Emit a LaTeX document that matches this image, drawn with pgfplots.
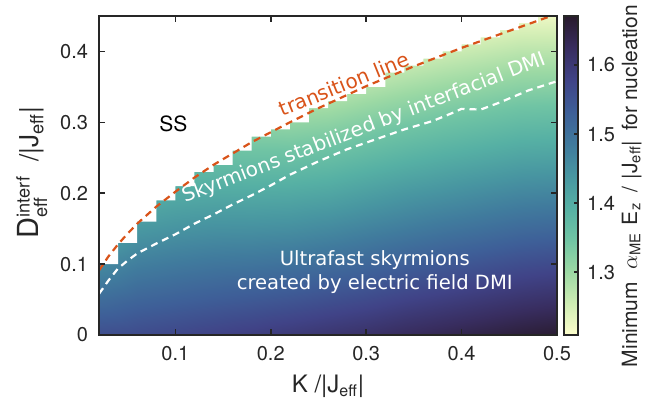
\documentclass[border=0pt]{standalone}
\usepackage{fontspec}
\setmainfont{TeX Gyre Heros}
\newfontfamily\dejavu{DejaVu Sans}
\usepackage{amsmath}
\usepackage{pgfplots}
\pgfplotsset{compat=1.18}
\definecolor{axgray}{RGB}{38,38,38}
\definecolor{tlorange}{RGB}{217,83,25}
\pgfplotsset{colormap={deep}{rgb255=(253,254,204) rgb255=(206,236,179) rgb255=(156,217,164) rgb255=(112,196,164) rgb255=(86,176,164) rgb255=(72,150,161) rgb255=(64,122,157) rgb255=(62,95,152) rgb255=(64,67,135) rgb255=(56,45,95) rgb255=(40,26,44)}}
\pgfplotstableread{
K D v
0.02 0.00 1.560
0.06 0.00 1.565
0.10 0.00 1.572
0.14 0.00 1.580
0.18 0.00 1.588
0.22 0.00 1.597
0.26 0.00 1.606
0.30 0.00 1.615
0.34 0.00 1.627
0.38 0.00 1.637
0.42 0.00 1.647
0.46 0.00 1.657
0.50 0.00 1.665
0.02 0.05 1.510
0.06 0.05 1.522
0.10 0.05 1.529
0.14 0.05 1.536
0.18 0.05 1.542
0.22 0.05 1.549
0.26 0.05 1.558
0.30 0.05 1.567
0.34 0.05 1.579
0.38 0.05 1.589
0.42 0.05 1.599
0.46 0.05 1.609
0.50 0.05 1.616
0.02 0.10 1.460
0.06 0.10 1.479
0.10 0.10 1.487
0.14 0.10 1.493
0.18 0.10 1.496
0.22 0.10 1.501
0.26 0.10 1.509
0.30 0.10 1.519
0.34 0.10 1.531
0.38 0.10 1.542
0.42 0.10 1.551
0.46 0.10 1.561
0.50 0.10 1.567
0.02 0.15 1.410
0.06 0.15 1.436
0.10 0.15 1.444
0.14 0.15 1.449
0.18 0.15 1.450
0.22 0.15 1.453
0.26 0.15 1.461
0.30 0.15 1.472
0.34 0.15 1.483
0.38 0.15 1.494
0.42 0.15 1.503
0.46 0.15 1.513
0.50 0.15 1.518
0.02 0.20 1.360
0.06 0.20 1.393
0.10 0.20 1.402
0.14 0.20 1.405
0.18 0.20 1.404
0.22 0.20 1.406
0.26 0.20 1.412
0.30 0.20 1.424
0.34 0.20 1.436
0.38 0.20 1.446
0.42 0.20 1.456
0.46 0.20 1.465
0.50 0.20 1.469
0.02 0.25 1.310
0.06 0.25 1.350
0.10 0.25 1.359
0.14 0.25 1.361
0.18 0.25 1.358
0.22 0.25 1.358
0.26 0.25 1.364
0.30 0.25 1.376
0.34 0.25 1.388
0.38 0.25 1.399
0.42 0.25 1.408
0.46 0.25 1.417
0.50 0.25 1.420
0.02 0.30 1.260
0.06 0.30 1.307
0.10 0.30 1.317
0.14 0.30 1.318
0.18 0.30 1.312
0.22 0.30 1.310
0.26 0.30 1.315
0.30 0.30 1.328
0.34 0.30 1.340
0.38 0.30 1.351
0.42 0.30 1.360
0.46 0.30 1.369
0.50 0.30 1.372
0.02 0.35 1.210
0.06 0.35 1.264
0.10 0.35 1.274
0.14 0.35 1.274
0.18 0.35 1.266
0.22 0.35 1.262
0.26 0.35 1.267
0.30 0.35 1.280
0.34 0.35 1.292
0.38 0.35 1.303
0.42 0.35 1.312
0.46 0.35 1.321
0.50 0.35 1.323
0.02 0.40 1.210
0.06 0.40 1.221
0.10 0.40 1.232
0.14 0.40 1.230
0.18 0.40 1.220
0.22 0.40 1.214
0.26 0.40 1.218
0.30 0.40 1.232
0.34 0.40 1.244
0.38 0.40 1.255
0.42 0.40 1.264
0.46 0.40 1.273
0.50 0.40 1.274
0.02 0.45 1.210
0.06 0.45 1.210
0.10 0.45 1.210
0.14 0.45 1.210
0.18 0.45 1.210
0.22 0.45 1.210
0.26 0.45 1.210
0.30 0.45 1.210
0.34 0.45 1.210
0.38 0.45 1.210
0.42 0.45 1.216
0.46 0.45 1.225
0.50 0.45 1.225
}\fieldtable
\begin{document}
\begin{tikzpicture}
\begin{axis}[
 scale only axis, width=229pt, height=159.5pt,
 xmin=0.02, xmax=0.5, ymin=0, ymax=0.45,
 xtick={0.1,0.2,0.3,0.4,0.5}, ytick={0,0.1,0.2,0.3,0.4},
 tick align=inside, major tick length=3pt,
 axis line style={axgray, line width=0.8pt},
 every tick/.append style={axgray, line width=0.8pt},
 tick label style={font=\fontsize{10}{12}\selectfont, text=axgray},
 yticklabel style={xshift=-2pt},
 xticklabel style={yshift=-2pt},
 /pgf/number format/assume math mode=true,
 axis on top,
 colormap name=deep,
 point meta min=1.209, point meta max=1.671,
 colorbar,
 colorbar style={
   at={(parent axis.north east)}, anchor=north west, xshift=-5pt,
   width=7pt,
   ytick={1.3,1.4,1.5,1.6},
   ytick pos=right,
   tick align=inside, major tick length=2pt,
   axis line style={axgray, line width=0.8pt},
   every tick/.append style={axgray, line width=0.8pt},
   yticklabel style={font=\fontsize{10}{12}\selectfont, text=axgray, xshift=1pt},
   /pgf/number format/assume math mode=true,
   ylabel={Minimum\hspace{6pt}$\alpha_{\text{ME}}$\hspace{1pt} E$_{\text{z}}$\hspace{2pt} / \hspace{1pt}|J$_{\text{eff}}$|\hspace{2pt} for nucleation},
   every axis y label/.style={at={(axis description cs:1,0.467)}, xshift=29.5pt, rotate=90, anchor=base, font=\fontsize{10.5}{12}\selectfont, text=axgray},
 },
 xlabel={K /|J$_{\text{eff}}$|},
 ylabel={{\fontsize{14.5}{15}\selectfont D}$^{\text{interf}}_{\text{eff}}$\hspace{7pt}/|J$_{\text{eff}}$|},
 every axis x label/.style={at={(axis description cs:0.5,0)}, yshift=-28.9pt, anchor=base, font=\fontsize{12}{14}\selectfont, text=axgray},
 every axis y label/.style={at={(axis description cs:0,0.509)}, xshift=-30.3pt, rotate=90, anchor=base, font=\fontsize{13}{15}\selectfont, text=axgray},
]
\addplot[surf, shader=interp, mesh/cols=13, point meta=explicit] table[x=K, y=D, meta=v] {\fieldtable};
\addplot[fill=white, draw=none] coordinates {(0.01,0.46) (0.01,0.10) (0.04,0.10) (0.04,0.13) (0.06,0.13) (0.06,0.16) (0.08,0.16) (0.08,0.19) (0.10,0.19) (0.10,0.21) (0.12,0.21) (0.12,0.23) (0.14,0.23) (0.14,0.24) (0.16,0.24) (0.16,0.26) (0.18,0.26) (0.18,0.28) (0.20,0.28) (0.20,0.29) (0.22,0.29) (0.22,0.30) (0.24,0.30) (0.24,0.32) (0.26,0.32) (0.26,0.33) (0.28,0.33) (0.28,0.34) (0.30,0.34) (0.30,0.35) (0.32,0.35) (0.32,0.37) (0.34,0.37) (0.34,0.38) (0.36,0.38) (0.36,0.39) (0.38,0.39) (0.38,0.40) (0.40,0.40) (0.40,0.41) (0.42,0.41) (0.42,0.42) (0.44,0.42) (0.44,0.43) (0.46,0.43) (0.46,0.44) (0.48,0.44) (0.48,0.46)};
\addplot[white, line width=1.1pt, dash pattern=on 3.5pt off 2.5pt] coordinates {(0.02,0.058) (0.03,0.077) (0.04,0.094) (0.05,0.105) (0.06,0.115) (0.08,0.129) (0.10,0.142) (0.12,0.157) (0.14,0.170) (0.16,0.184) (0.18,0.197) (0.20,0.211) (0.22,0.226) (0.25,0.245) (0.28,0.262) (0.31,0.276) (0.34,0.290) (0.37,0.302) (0.39,0.313) (0.40,0.319) (0.42,0.318) (0.44,0.328) (0.47,0.345) (0.50,0.358)};
\addplot[tlorange, line width=1.1pt, dash pattern=on 3.5pt off 2.5pt] coordinates {(0.02,0.091) (0.03,0.111) (0.04,0.128) (0.05,0.143) (0.06,0.157) (0.08,0.181) (0.10,0.202) (0.12,0.222) (0.14,0.240) (0.16,0.256) (0.18,0.272) (0.20,0.286) (0.22,0.300) (0.25,0.320) (0.30,0.351) (0.35,0.379) (0.40,0.405) (0.45,0.429) (0.50,0.453)};
\node[font=\fontsize{10.5}{12}\selectfont, text=black] at (axis cs:0.098,0.298) {SS};
\node[rotate=21, anchor=base west, inner sep=0pt, text=white, font=\dejavu\fontsize{10}{12}\selectfont] at (axis cs:0.1099,0.186) {Skyrmions stabilized by interfacial DMI};
\node[rotate=22, anchor=base west, inner sep=0pt, text=tlorange, font=\dejavu\fontsize{10}{12}\selectfont] at (axis cs:0.2123,0.3075) {transition line};
\node[align=center, text=white, font=\dejavu\fontsize{9.8}{12}\selectfont] at (axis cs:0.309,0.089) {Ultrafast skyrmions\\created by electric field DMI};
\coordinate (sw) at (rel axis cs:0,0);
\coordinate (ne) at (rel axis cs:1,1);
\end{axis}
\pgfresetboundingbox
\path[use as bounding box] ([shift={(-49.5pt,-36.5pt)}]sw) rectangle ([shift={(44pt,8pt)}]ne);
\end{tikzpicture}
\end{document}
